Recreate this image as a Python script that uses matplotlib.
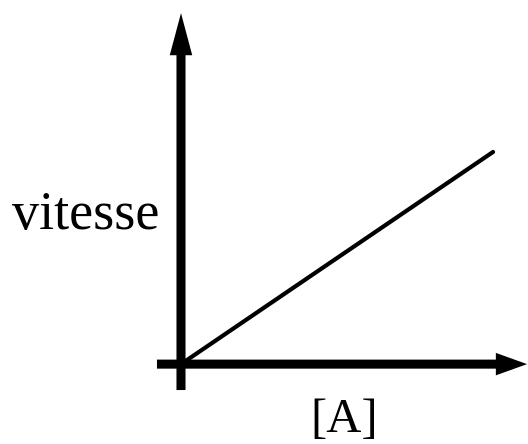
import matplotlib.pyplot as plt

# données : vitesse proportionnelle à [A]
conc_A = [0.0, 1.0]
vitesse = [0.0, 0.68]

# étiquettes
label_y = "vitesse"
label_x = "[A]"

# =========================
# Figure
# =========================
fig = plt.figure(figsize=(5.28, 4.44), dpi=100)
ax = fig.add_axes([0, 0, 1, 1])
ax.set_xlim(-0.580, 1.112)
ax.set_ylim(-0.256, 1.167)
ax.axis('off')

# axes en flèches épaisses
ax.arrow(0, -0.083, 0, 1.208, width=0.029, head_width=0.072, head_length=0.135,
         length_includes_head=True, fc='k', ec='k', lw=0)
ax.arrow(-0.077, 0, 1.186, 0, width=0.029, head_width=0.072, head_length=0.10,
         length_includes_head=True, fc='k', ec='k', lw=0)

# droite
ax.plot(conc_A, vitesse, color='k', lw=3, solid_capstyle='round')

# textes
ax.text(-0.542, 0.433, label_y, fontsize=39, family='Liberation Serif',
        ha='left', va='baseline')
ax.text(0.524, -0.218, label_x, fontsize=35, family='Liberation Serif',
        ha='center', va='baseline')

fig.savefig('out.png', dpi=100)
